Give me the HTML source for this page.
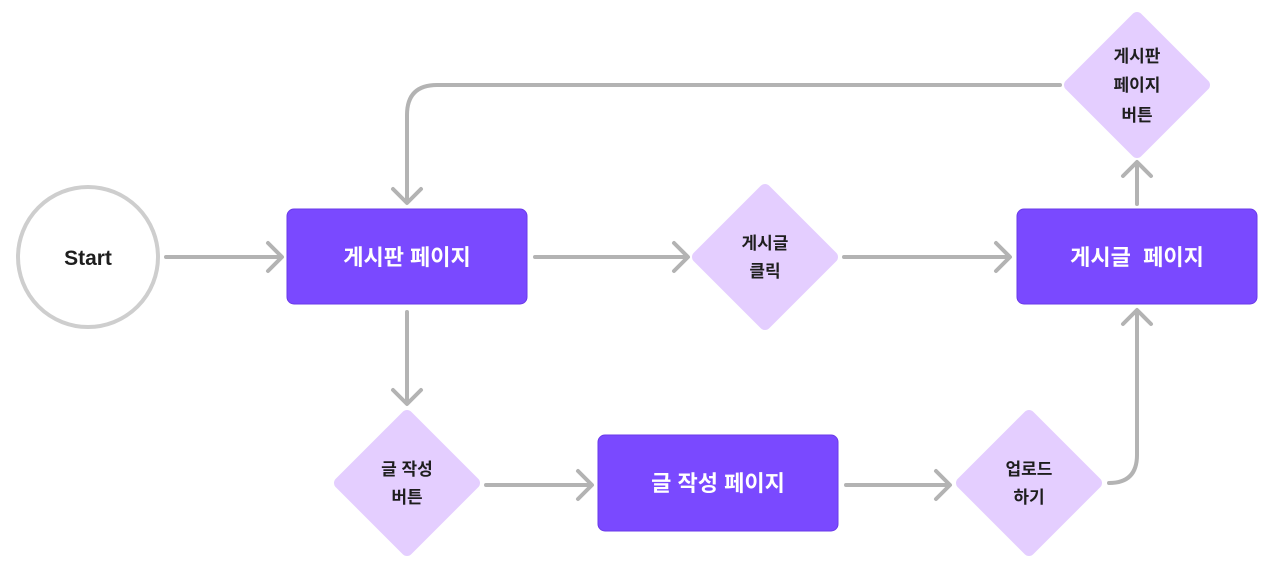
<!DOCTYPE html>
<html><head><meta charset="utf-8"><style>
html,body{margin:0;padding:0;background:#fff;}
svg{display:block}
text{font-family:"Liberation Sans","Noto Sans CJK KR",sans-serif;font-weight:bold;}
</style></head><body>
<svg width="1280" height="568" viewBox="0 0 1280 568" xmlns="http://www.w3.org/2000/svg">
<g fill="none" stroke="#b3b3b3" stroke-width="4" stroke-linecap="round" stroke-linejoin="round">
  <!-- start -> box1 -->
  <path d="M166 257 H281 M268 243 L282 257 L268 271"/>
  <!-- box1 -> diamond -->
  <path d="M535 257 H687 M674 243 L688 257 L674 271"/>
  <!-- diamond -> box2 -->
  <path d="M844 257 H1009 M996 243 L1010 257 L996 271"/>
  <!-- box2 -> top diamond -->
  <path d="M1137 204 V163 M1123 176 L1137 162 L1151 176"/>
  <!-- top diamond -> box1 -->
  <path d="M1060 85 H437 Q407 85 407 115 V202 M393 189 L407 203 L421 189"/>
  <!-- box1 -> write diamond -->
  <path d="M407 312 V403 M393 390 L407 404 L421 390"/>
  <!-- write diamond -> box3 -->
  <path d="M486 485 H591 M578 471 L592 485 L578 499"/>
  <!-- box3 -> upload -->
  <path d="M846 485 H949 M936 471 L950 485 L936 499"/>
  <!-- upload -> box2 -->
  <path d="M1109 483 Q1137 483 1137 455 V311 M1123 324 L1137 310 L1151 324"/>
</g>
<circle cx="88" cy="257" r="70" fill="#fff" stroke="#cecece" stroke-width="4"/>
<text x="88" y="265" font-size="21" fill="#1e1e1e" text-anchor="middle">Start</text>

<g fill="#7a49ff" stroke="#6a3ae8" stroke-width="1">
  <rect x="287" y="209" width="240" height="95" rx="7"/>
  <rect x="1017" y="209" width="240" height="95" rx="7"/>
  <rect x="598" y="435" width="240" height="96" rx="7"/>
</g>
<g fill="#fff" font-size="22" text-anchor="middle">
  <text x="407" y="265">게시판 페이지</text>
  <text x="1137" y="265">게시글&#160; 페이지</text>
  <text x="718" y="491">글 작성 페이지</text>
</g>

<g fill="#e4ceff" stroke="#e4ceff" stroke-width="12" stroke-linejoin="round">
  <polygon points="765,190 832,257 765,324 698,257"/>
  <polygon points="1137,18 1204,85 1137,152 1070,85"/>
  <polygon points="407,416 474,483 407,550 340,483"/>
  <polygon points="1029,416 1096,483 1029,550 962,483"/>
</g>
<g fill="#1e1e1e" font-size="17" text-anchor="middle">
  <text x="765" y="249">게시글</text>
  <text x="765" y="277">클릭</text>
  <text x="1137" y="62">게시판</text>
  <text x="1137" y="91">페이지</text>
  <text x="1137" y="121">버튼</text>
  <text x="407" y="475">글 작성</text>
  <text x="407" y="503">버튼</text>
  <text x="1029" y="475">업로드</text>
  <text x="1029" y="503">하기</text>
</g>
</svg>
</body></html>
